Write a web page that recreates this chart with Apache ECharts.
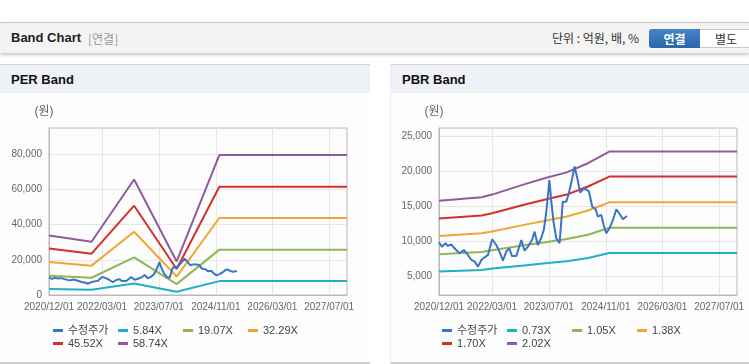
<!DOCTYPE html>
<html>
<head>
<meta charset="utf-8">
<script src="https://cdn.jsdelivr.net/npm/echarts@6/dist/echarts.min.js"></script>
<style>
  html, body { margin: 0; padding: 0; }
  body { width: 749px; height: 364px; position: relative; overflow: hidden; background: #fff;
         font-family: 'Liberation Sans', 'Noto Sans CJK KR', sans-serif; }
  #hdr { position: absolute; left: 0; top: 22px; width: 749px; height: 30px; background: #f4f4f4;
         border-top: 1px solid #c4c4c4; box-shadow: 0 2px 3px rgba(0,0,0,0.22); }
  #hdr .title { position: absolute; left: 11px; top: 7px; font-size: 13px; font-weight: bold; color: #222; }
  #hdr .sub { position: absolute; left: 88px; top: 8px; font-size: 12px; color: #999; font-family: 'Noto Sans CJK KR', sans-serif; line-height: 15px; }
  #hdr .unit { position: absolute; left: 552px; top: 7px; font-size: 12px; color: #333; font-family: 'Noto Sans CJK KR', sans-serif; line-height: 16px; }
  #hdr .btn1 { position: absolute; left: 649px; top: 6px; width: 51px; height: 19px; border-radius: 3px 0 0 3px;
               background: linear-gradient(#4384c8, #2c67aa); color: #fff; font-size: 12px; font-weight: bold;
               text-align: center; line-height: 19px; font-family: 'Noto Sans CJK KR', sans-serif; }
  #hdr .btn2 { position: absolute; left: 700px; top: 6px; width: 52px; height: 17px; border: 1px solid #c8c8c8; border-left: none;
               background: #fff; color: #333; font-size: 12px; text-align: center; line-height: 17px;
               font-family: 'Noto Sans CJK KR', sans-serif; }
  .panel { position: absolute; top: 64px; height: 297px; background: #fdfdfd; border-top: 1px solid #d4d4d4;
           border-bottom: 2px solid #cfcfcf; }
  .panel .ph { height: 28px; background: #eef1f6; font-size: 13px; font-weight: bold; color: #111;
               line-height: 29px; padding-left: 11px; }
  #chart { position: absolute; left: 0; top: 0; width: 749px; height: 364px; }
</style>
</head>
<body>
<div id="hdr">
  <span class="title">Band Chart</span>
  <span class="sub">[연결]</span>
  <span class="unit">단위 : 억원, 배, %</span>
  <div class="btn1">연결</div>
  <div class="btn2">별도</div>
</div>
<div class="panel" style="left:0;width:370px;"><div class="ph">PER Band</div></div>
<div class="panel" style="left:390px;width:359px;border-left:1px solid #eeeeee;"><div class="ph">PBR Band</div></div>
<div id="chart"></div>
<script>
// ---------------- data ----------------
const xStart = '2020-12-01';
const xEnd = '2027-12-01';
const xTickLabels = ['2020/12/01', '2022/03/01', '2023/07/01', '2024/11/01', '2026/03/01', '2027/07/01'];

const priceName = '수정주가';
const priceDates = [
  '2020-12-01','2020-12-26','2021-01-25','2021-02-16','2021-03-16','2021-04-13','2021-05-26','2021-07-02',
  '2021-08-06','2021-09-05','2021-10-03','2021-11-01','2021-11-29','2021-12-27','2022-01-25','2022-03-02',
  '2022-04-06','2022-05-04','2022-06-02','2022-07-01','2022-07-28','2022-08-18','2022-09-25','2022-11-07',
  '2022-12-05','2023-01-03','2023-02-07','2023-03-01','2023-03-28','2023-04-26','2023-05-19','2023-06-08',
  '2023-06-28','2023-07-06','2023-07-21','2023-08-10','2023-09-03','2023-10-01','2023-10-29','2023-11-28',
  '2023-12-20','2024-01-18','2024-02-07','2024-03-01','2024-03-26','2024-04-18','2024-05-17','2024-06-09',
  '2024-07-07','2024-08-05','2024-08-25','2024-09-23','2024-10-13','2024-11-05','2024-12-03','2025-01-01',
  '2025-01-30','2025-02-28','2025-03-27','2025-05-01'
];
const priceValues = [
  9880, 9260, 9740, 9360, 9600, 9030, 8320, 8790,
  8080, 7370, 7130, 6420, 7370, 7750, 8080, 10310,
  9500, 8550, 7270, 8550, 9030, 7940, 7940, 10210,
  8690, 9260, 10210, 11390, 9500, 10450, 11630, 14000,
  17300, 18700, 15900, 12810, 10450, 9740, 15650, 15650,
  16850, 18980, 20630, 18980, 16930, 17420, 17420, 17080,
  14950, 14570, 13520, 13760, 12340, 11160, 11870, 13050,
  14570, 13900, 13150, 13620
];

// PER band
const perBandDates = ['2020-12-01', '2021-12-01', '2022-12-01', '2023-12-01', '2024-12-01', '2027-12-01'];
const perBandNames = ['5.84X', '19.07X', '32.29X', '45.52X', '58.74X'];
const perBand584  = [3400, 2950, 6500, 1900, 7900, 7900];
const perBand1907 = [11000, 9800, 21400, 6200, 25800, 25800];
const perBand3229 = [18800, 16700, 36000, 10500, 43800, 43800];
const perBand4552 = [26400, 23500, 50800, 14800, 61600, 61600];
const perBand5874 = [33800, 30300, 65700, 19100, 79600, 79600];
const perYTicks = [0, 20000, 40000, 60000, 80000];

// PBR band
const pbrBandDates = ['2020-12-01', '2021-12-01', '2022-03-01', '2022-12-01', '2023-06-01', '2023-12-01', '2024-06-01', '2024-12-01', '2027-12-01'];
const pbrBandNames = ['0.73X', '1.05X', '1.38X', '1.70X', '2.02X'];
const pbrBand073 = [5720, 5950, 6150, 6600, 6900, 7200, 7650, 8350, 8350];
const pbrBand105 = [8200, 8500, 8750, 9450, 9900, 10350, 10950, 11950, 11950];
const pbrBand138 = [10780, 11150, 11420, 12350, 12950, 13550, 14400, 15550, 15550];
const pbrBand170 = [13250, 13680, 14000, 15200, 15950, 16650, 17800, 19200, 19200];
const pbrBand202 = [15780, 16280, 16650, 18100, 19000, 19800, 21100, 22750, 22750];
const pbrYTicks = [5000, 10000, 15000, 20000, 25000];

// ---------------- build ----------------
const colors = { price: '#3a74c6', c1: '#1eb1c6', c2: '#8fb653', c3: '#f3a532', c4: '#d3302a', c5: '#8f5a9e' };
const bandColors = [colors.c1, colors.c2, colors.c3, colors.c4, colors.c5];

function ts(s) { const p = s.split(/[-\/]/).map(Number); return Date.UTC(p[0], p[1] - 1, p[2]); }
function pad(n) { return n < 10 ? '0' + n : '' + n; }
function fmtDate(v) { const d = new Date(v); return d.getUTCFullYear() + '/' + pad(d.getUTCMonth() + 1) + '/' + pad(d.getUTCDate()); }
function pairs(dates, vals) { return dates.map((d, i) => [ts(d), vals[i]]); }

const xTickValues = xTickLabels.map(ts);
const fontFam = "'Liberation Sans', 'Noto Sans CJK KR', sans-serif";
const axisGray = '#b8b8b8';

function xAxis(gridIndex) {
  return {
    type: 'value', gridIndex, min: ts(xStart), max: ts(xEnd),
    axisLine: { show: true, lineStyle: { color: axisGray } },
    axisTick: { show: false, customValues: xTickValues },
    axisLabel: { customValues: xTickValues, formatter: fmtDate, color: '#666', fontSize: 10, fontFamily: fontFam, margin: 7, hideOverlap: false },
    splitLine: { show: true, lineStyle: { color: '#e6e6e6', width: 1 } }
  };
}
function yAxis(gridIndex, min, max, ticks) {
  return {
    type: 'value', gridIndex, min, max,
    name: '(원)', nameLocation: 'end', nameGap: 10,
    nameTextStyle: { color: '#666', fontSize: 12, fontFamily: fontFam, align: 'center', padding: [0, 10, 0, 0] },
    axisLine: { show: true, lineStyle: { color: axisGray } },
    axisTick: { show: false, customValues: ticks },
    axisLabel: { customValues: ticks, formatter: v => v.toLocaleString('en-US'), color: '#666', fontSize: 10, fontFamily: fontFam, margin: 7 },
    splitLine: { show: true, lineStyle: { color: '#e6e6e6', width: 1 } }
  };
}
function line(name, data, color, idx, z) {
  return { type: 'line', name, data, xAxisIndex: idx, yAxisIndex: idx, symbol: 'none', showSymbol: false,
           lineStyle: { color, width: 2 }, itemStyle: { color }, z: z || 2, silent: true };
}
function legend(left, top, names) {
  return { left, top, data: names, icon: 'rect', itemWidth: 10, itemHeight: 3, itemGap: 5, padding: 0,
           textStyle: { fontSize: 11, width: 45, color: '#444', fontFamily: fontFam, lineHeight: 13 }, selectedMode: false };
}

const series = [];
const perVals = [perBand584, perBand1907, perBand3229, perBand4552, perBand5874];
perBandNames.forEach((n, i) => series.push(line(n, pairs(perBandDates, perVals[i]), bandColors[i], 0)));
series.push(line(priceName, pairs(priceDates, priceValues), colors.price, 0, 3));
const pbrVals = [pbrBand073, pbrBand105, pbrBand138, pbrBand170, pbrBand202];
pbrBandNames.forEach((n, i) => series.push(line(n, pairs(pbrBandDates, pbrVals[i]), bandColors[i], 1)));
series.push(line(priceName, pairs(priceDates, priceValues), colors.price, 1, 3));

const chart = echarts.init(document.getElementById('chart'), null, { renderer: 'canvas' });
chart.setOption({
  backgroundColor: 'transparent',
  animation: false,
  textStyle: { fontFamily: fontFam },
  grid: [
    { left: 49, top: 128, width: 298, height: 167, show: true, borderColor: axisGray, borderWidth: 1, backgroundColor: 'transparent' },
    { left: 439, top: 128, width: 298, height: 167, show: true, borderColor: axisGray, borderWidth: 1, backgroundColor: 'transparent' }
  ],
  xAxis: [xAxis(0), xAxis(1)],
  yAxis: [yAxis(0, 0, 95000, perYTicks), yAxis(1, 2400, 26100, pbrYTicks)],
  legend: [
    legend(53, 324, [priceName, perBandNames[0], perBandNames[1], perBandNames[2]]),
    legend(53, 337, [perBandNames[3], perBandNames[4]]),
    legend(442, 324, [priceName, pbrBandNames[0], pbrBandNames[1], pbrBandNames[2]]),
    legend(442, 337, [pbrBandNames[3], pbrBandNames[4]])
  ],
  series
});
</script>
</body>
</html>
